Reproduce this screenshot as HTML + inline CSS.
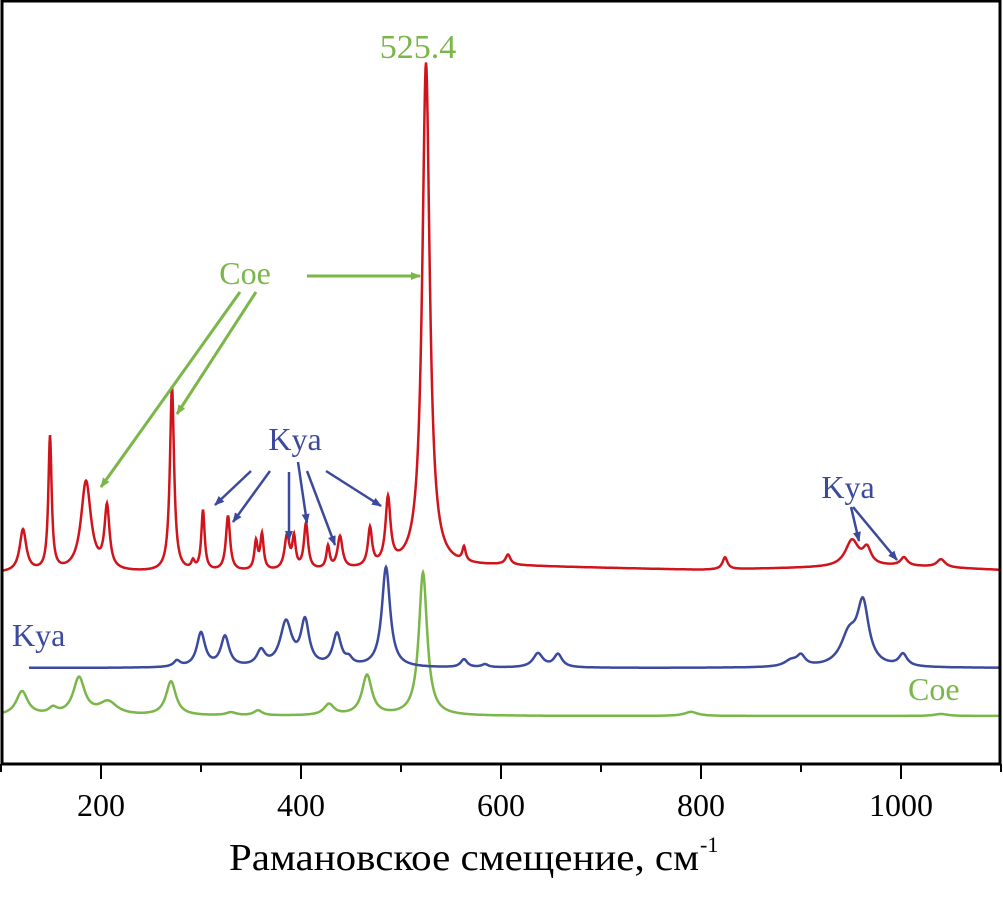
<!DOCTYPE html>
<html><head><meta charset="utf-8"><style>
html,body{margin:0;padding:0;background:#fff}
svg{display:block;font-family:"Liberation Serif",serif}
</style></head><body>
<svg id="chart" width="1003" height="898" viewBox="0 0 1003 898">
<defs>
<marker id="ag" markerWidth="10" markerHeight="8" refX="9" refY="4" orient="auto" markerUnits="userSpaceOnUse"><path d="M0,0 L10,4 L0,8 Z" fill="#7ab648"/></marker>
<marker id="ab" markerWidth="10" markerHeight="8" refX="9" refY="4" orient="auto" markerUnits="userSpaceOnUse"><path d="M0,0 L10,4 L0,8 Z" fill="#3b4a9c"/></marker>
</defs>
<g id="series"></g>
<g id="axes"></g>
<text x="418" y="58" font-size="34" fill="#7ab648" text-anchor="middle">525.4</text>
<text x="245" y="284" font-size="32" fill="#7ab648" text-anchor="middle">Coe</text>
<g stroke="#7ab648" stroke-width="3" fill="none">
<line x1="307" y1="276" x2="420" y2="276" marker-end="url(#ag)"/>
<line x1="240" y1="292" x2="101" y2="487" marker-end="url(#ag)"/>
<line x1="256" y1="292" x2="177" y2="414" marker-end="url(#ag)"/>
</g>
<text x="295" y="450" font-size="32" fill="#3b4a9c" text-anchor="middle">Kya</text>
<g stroke="#3b4a9c" stroke-width="2.5" fill="none">
<line x1="251" y1="471" x2="215" y2="505" marker-end="url(#ab)"/>
<line x1="270" y1="471" x2="233" y2="522" marker-end="url(#ab)"/>
<line x1="289" y1="472" x2="289" y2="540" marker-end="url(#ab)"/>
<line x1="298" y1="462" x2="307" y2="523" marker-end="url(#ab)"/>
<line x1="307" y1="471" x2="335" y2="545" marker-end="url(#ab)"/>
<line x1="326" y1="471" x2="381" y2="506" marker-end="url(#ab)"/>
</g>
<text x="848" y="498" font-size="32" fill="#3b4a9c" text-anchor="middle">Kya</text>
<g stroke="#3b4a9c" stroke-width="2.5" fill="none">
<line x1="851" y1="507" x2="859" y2="541" marker-end="url(#ab)"/>
<line x1="853" y1="507" x2="897" y2="560" marker-end="url(#ab)"/>
</g>
<text x="12" y="646" font-size="32" fill="#3b4a9c">Kya</text>
<text x="908" y="700" font-size="32" fill="#7ab648">Coe</text>
<text x="229" y="870" font-size="38" textLength="470" lengthAdjust="spacingAndGlyphs">Рамановское смещение, см</text>
<text x="700" y="852" font-size="22">-1</text>
</svg>
<script>
const xMin = 99, xMax = 1100;
const redBaseline = [[100,573],[400,572],[600,566],[800,570],[1000,566],[1100,570]];
const redPeaks = [122,149,185,206,271,292,302,327,355,361,386,393,405,427,439,469,487,525,563,607,824,951,966,1003,1040];
const redHeights = [42,134,90,62,185,8,60,55,28,35,34,30,46,22,32,38,66,505,14,10,12,26,16,8,8];
const redWidths = [4,2,6,3,2.5,2,2,2.5,2,2,3,2,2.5,2,3,2.5,3,4.5,2,3,3,8,5,4,5];
const blueBaseline = [[128,668],[1100,668]];
const bluePeaks = [276,300,324,360,385,404,436,448,485,563,584,637,657,890,900,948,962,1002];
const blueHeights = [6,34,30,15,44,44,32,6,100,8,3,14,13,6,10,30,60,12];
const blueWidths = [4,5,5,5,7,5,5,4,5,4,4,6,5,8,5,10,7,5];
const greenBaseline = [[100,716],[1100,716]];
const greenPeaks = [121,152,178,207,270,330,357,428,466,522,790,1040];
const greenHeights = [24,6,37,13,34,3,5,11,40,143,4,2];
const greenWidths = [7,5,7,11,6,6,5,6,6,5,8,8];

const xs = v => (v - xMin) * 1001 / (xMax - xMin);
function base(b, v){for(let i=0;i<b.length-1;i++){if(v<=b[i+1][0]){const t=(v-b[i][0])/(b[i+1][0]-b[i][0]);return b[i][1]+t*(b[i+1][1]-b[i][1]);}}return b[b.length-1][1];}
function path(b,p,h,w,start){let d="";for(let v=start;v<=xMax;v+=0.5){let y=base(b,v);for(let i=0;i<p.length;i++){const u=(v-p[i])/w[i];y-=h[i]/(1+u*u);}d+=(d?"L":"M")+xs(v).toFixed(1)+","+y.toFixed(1);}return d;}
const ns="http://www.w3.org/2000/svg";
const g=document.getElementById("series");
function add(d,color,name){const p=document.createElementNS(ns,"path");p.setAttribute("d",d);p.setAttribute("fill","none");p.setAttribute("stroke",color);p.setAttribute("stroke-width","2.5");


g.appendChild(p);}
add(path(greenBaseline,greenPeaks,greenHeights,greenWidths,100),"#7ab648","coe-spectrum");
add(path(blueBaseline,bluePeaks,blueHeights,blueWidths,128),"#3b4a9c","kya-spectrum");
add(path(redBaseline,redPeaks,redHeights,redWidths,100),"#d0141c","sample-spectrum");

const ax=document.getElementById("axes");
const tickVals=[100,200,300,400,500,600,700,800,900,1000,1100];
const labelVals=[200,400,600,800,1000];
function el(tag,attrs){const e=document.createElementNS(ns,tag);for(const k in attrs)e.setAttribute(k,attrs[k]);ax.appendChild(e);return e;}
let a=el("path",{d:"M2,1 L1000,1 M2,0 L2,764 L1000,764 L1000,0",fill:"none",stroke:"#000","stroke-width":"3"});


tickVals.forEach(v=>{const x=xs(v);const major=labelVals.includes(v);
const t=el("line",{x1:x,y1:764,x2:x,y2:major?779:772,stroke:"#000","stroke-width":"2"});


if(major){const l=el("text",{x:x,y:816,"font-size":"32","text-anchor":"middle"});l.textContent=v;

}
});
</script>
</body></html>
